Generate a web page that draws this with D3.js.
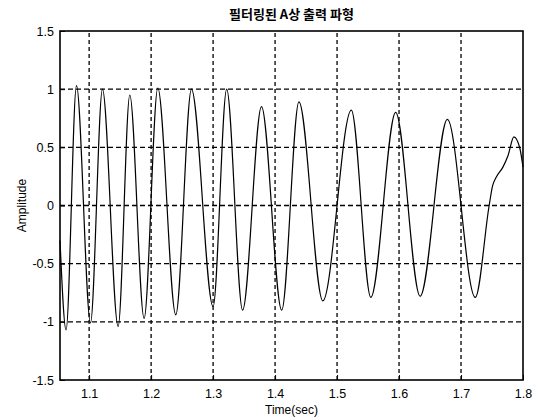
<!DOCTYPE html>
<html>
<head>
<meta charset="utf-8">
<script src="https://cdn.jsdelivr.net/npm/d3@7"></script>
<style>
  html, body { margin: 0; padding: 0; background: #fff; }
  svg { display: block; }
  .tick-label { font-family: "Liberation Sans", Arial, sans-serif; font-size: 12.5px; fill: #000; }
  .axis-title { font-family: "Liberation Sans", Arial, sans-serif; font-size: 12px; fill: #000; }
  .chart-title { font-family: "Noto Sans CJK KR", "Liberation Sans", sans-serif; font-size: 13px; font-weight: bold; fill: #000; }
</style>
</head>
<body>
<div id="chart"></div>
<script>
// waveform: time (sec) and amplitude at the turning points
const times = [
  1.053, 1.0628, 1.0796, 1.1022, 1.1215, 1.1468, 1.1656, 1.1887, 1.2108, 1.2398,
  1.2651, 1.3000, 1.3219, 1.3476, 1.3781, 1.4107, 1.4385, 1.4770, 1.5230, 1.5545,
  1.5946, 1.6340, 1.6780, 1.7230, 1.7454, 1.7510, 1.7565, 1.7676, 1.7759, 1.7853,
  1.7950, 1.8000
];
const amplitude = [
  -0.30, -1.07, 1.03, -1.01, 1.00, -1.04, 0.95, -0.97, 1.01, -0.94,
  1.00, -0.87, 1.00, -0.90, 0.85, -0.90, 0.89, -0.82, 0.82, -0.79,
  0.80, -0.78, 0.74, -0.79, 0.00, 0.17, 0.24, 0.33, 0.43, 0.59,
  0.49, 0.33
];

const xTicks = [1.1, 1.2, 1.3, 1.4, 1.5, 1.6, 1.7, 1.8];
const yTicks = [-1.5, -1, -0.5, 0, 0.5, 1, 1.5];
const xDomain = [1.053, 1.8];
const yDomain = [-1.5, 1.5];

const title = '필터링된 A상 출력 파형';
const xLabel = 'Time(sec)';
const yLabel = 'Amplitude';

const width = 537, height = 419;
const margin = { top: 31, right: 14, bottom: 39, left: 60 };

const svg = d3.select('#chart')
  .append('svg')
  .attr('width', width)
  .attr('height', height);

const x = d3.scaleLinear()
  .domain(xDomain)
  .range([margin.left, width - margin.right]);

const y = d3.scaleLinear()
  .domain(yDomain)
  .range([height - margin.bottom, margin.top]);

// dashed grid
svg.append('g')
  .selectAll('line')
  .data(xTicks.filter(d => d < xDomain[1]))
  .join('line')
  .attr('x1', d => x(d)).attr('x2', d => x(d))
  .attr('y1', y(yDomain[0])).attr('y2', y(yDomain[1]))
  .attr('stroke', '#000')
  .attr('stroke-width', 1.3)
  .attr('stroke-dasharray', '4,3');

svg.append('g')
  .selectAll('line')
  .data(yTicks.filter(d => d > yDomain[0] && d < yDomain[1]))
  .join('line')
  .attr('x1', x(xDomain[0])).attr('x2', x(xDomain[1]))
  .attr('y1', d => y(d)).attr('y2', d => y(d))
  .attr('stroke', '#000')
  .attr('stroke-width', 1.3)
  .attr('stroke-dasharray', '5,3');

// waveform
const points = times.map((t, i) => [t, amplitude[i]]);
const line = d3.line()
  .x(d => x(d[0]))
  .y(d => y(d[1]))
  .curve(d3.curveMonotoneX);

svg.append('path')
  .datum(points)
  .attr('fill', 'none')
  .attr('stroke', '#000')
  .attr('stroke-width', 1.2)
  .attr('d', line);

// axes with inward ticks; plain hyphen for negatives like the original
const xAxis = d3.axisBottom(x).tickValues(xTicks).tickSize(-5).tickPadding(9)
  .tickFormat(d => d.toFixed(1));
const yAxis = d3.axisLeft(y).tickValues(yTicks).tickSize(-5).tickPadding(6)
  .tickFormat(d => String(d));

const gx = svg.append('g')
  .attr('transform', `translate(0,${y(yDomain[0])})`)
  .call(xAxis);
const gy = svg.append('g')
  .attr('transform', `translate(${x(xDomain[0])},0)`)
  .call(yAxis);

[gx, gy].forEach(g => {
  g.select('.domain').remove();
  g.selectAll('.tick line').attr('stroke', '#000').attr('stroke-width', 1);
  g.selectAll('.tick text').attr('class', 'tick-label').attr('fill', null);
});

// frame
svg.append('rect')
  .attr('x', x(xDomain[0]))
  .attr('y', y(yDomain[1]))
  .attr('width', x(xDomain[1]) - x(xDomain[0]))
  .attr('height', y(yDomain[0]) - y(yDomain[1]))
  .attr('fill', 'none')
  .attr('stroke', '#000')
  .attr('stroke-width', 1.6);

// titles
svg.append('text')
  .attr('class', 'chart-title')
  .attr('x', (x(xDomain[0]) + x(xDomain[1])) / 2)
  .attr('y', 19)
  .attr('text-anchor', 'middle')
  .text(title);

svg.append('text')
  .attr('class', 'axis-title')
  .attr('x', (x(xDomain[0]) + x(xDomain[1])) / 2)
  .attr('y', 414)
  .attr('text-anchor', 'middle')
  .text(xLabel);

svg.append('text')
  .attr('class', 'axis-title')
  .attr('transform', `translate(26,${(y(yDomain[0]) + y(yDomain[1])) / 2}) rotate(-90)`)
  .attr('text-anchor', 'middle')
  .text(yLabel);
</script>
</body>
</html>
